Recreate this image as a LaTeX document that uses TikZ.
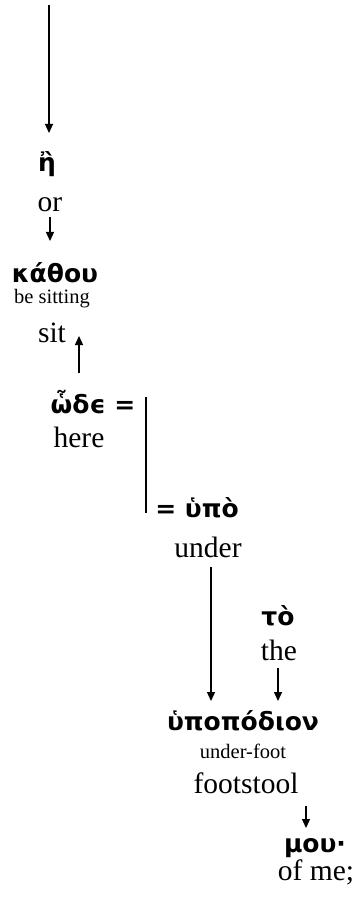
\documentclass[tikz,border=0pt]{standalone}
\usepackage{fontspec}
\setmainfont{Liberation Serif}
\newfontfamily\gkfont{DejaVu Sans}
\usetikzlibrary{arrows.meta}
\tikzset{
  gk/.style={inner sep=0pt, anchor=base, font=\gkfont\bfseries\fontsize{25}{26}\selectfont},
  en/.style={inner sep=0pt, anchor=base, font=\fontsize{29.5}{30}\selectfont},
  sm/.style={inner sep=0pt, anchor=base, font=\fontsize{20.5}{21}\selectfont},
  arr/.style={line width=1.3pt, -{Triangle[length=9pt,width=8pt]}},
  bar/.style={line width=1.3pt}
}
\begin{document}
\begin{tikzpicture}[x=1pt,y=-1pt]
\useasboundingbox (0,0) rectangle (362,909);
% nodes
\node[gk] (eta) at (47,172) {ἢ};
\node[en] (or) at (50,212) {or};
\node[gk] (kathou) at (55,282) {κάθου};
\node[sm] (besit) at (52,303) {be sitting};
\node[en] (sit) at (52,342) {sit};
\node[gk] (hode) at (93,413) {ὧδϵ =};
\node[en] (here) at (79,447) {here};
\node[gk] (hypo) at (197,517) {= ὑπὸ};
\node[en] (under) at (208,557) {under};
\node[gk] (to) at (278,625) {τὸ};
\node[en] (the) at (279,660) {the};
\node[gk] (hypopod) at (243,730) {ὑποπόδιον};
\node[sm] (underfoot) at (243,758) {under-foot};
\node[en] (footstool) at (246,793) {footstool};
\node[gk] (mou) at (315,852) {μου·};
\node[en] (ofme) at (316,880) {of me;};
% connector ends
\coordinate (a1) at (49,5);   \coordinate (a1e) at (49,133);
\coordinate (a2) at (50,217); \coordinate (a2e) at (50,241);
\coordinate (a3) at (79,373); \coordinate (a3e) at (79,336);
\coordinate (b1) at (146,397); \coordinate (b1e) at (146,513);
\coordinate (a4) at (211,567); \coordinate (a4e) at (211,701);
\coordinate (a5) at (278,668); \coordinate (a5e) at (278,701);
\coordinate (a6) at (306,806); \coordinate (a6e) at (306,828);
% connectors
\draw[arr] (a1) -- (a1e);
\draw[arr] (a2) -- (a2e);
\draw[arr] (a3) -- (a3e);
\draw[bar] (b1) -- (b1e);
\draw[arr] (a4) -- (a4e);
\draw[arr] (a5) -- (a5e);
\draw[arr] (a6) -- (a6e);
\end{tikzpicture}
\end{document}
